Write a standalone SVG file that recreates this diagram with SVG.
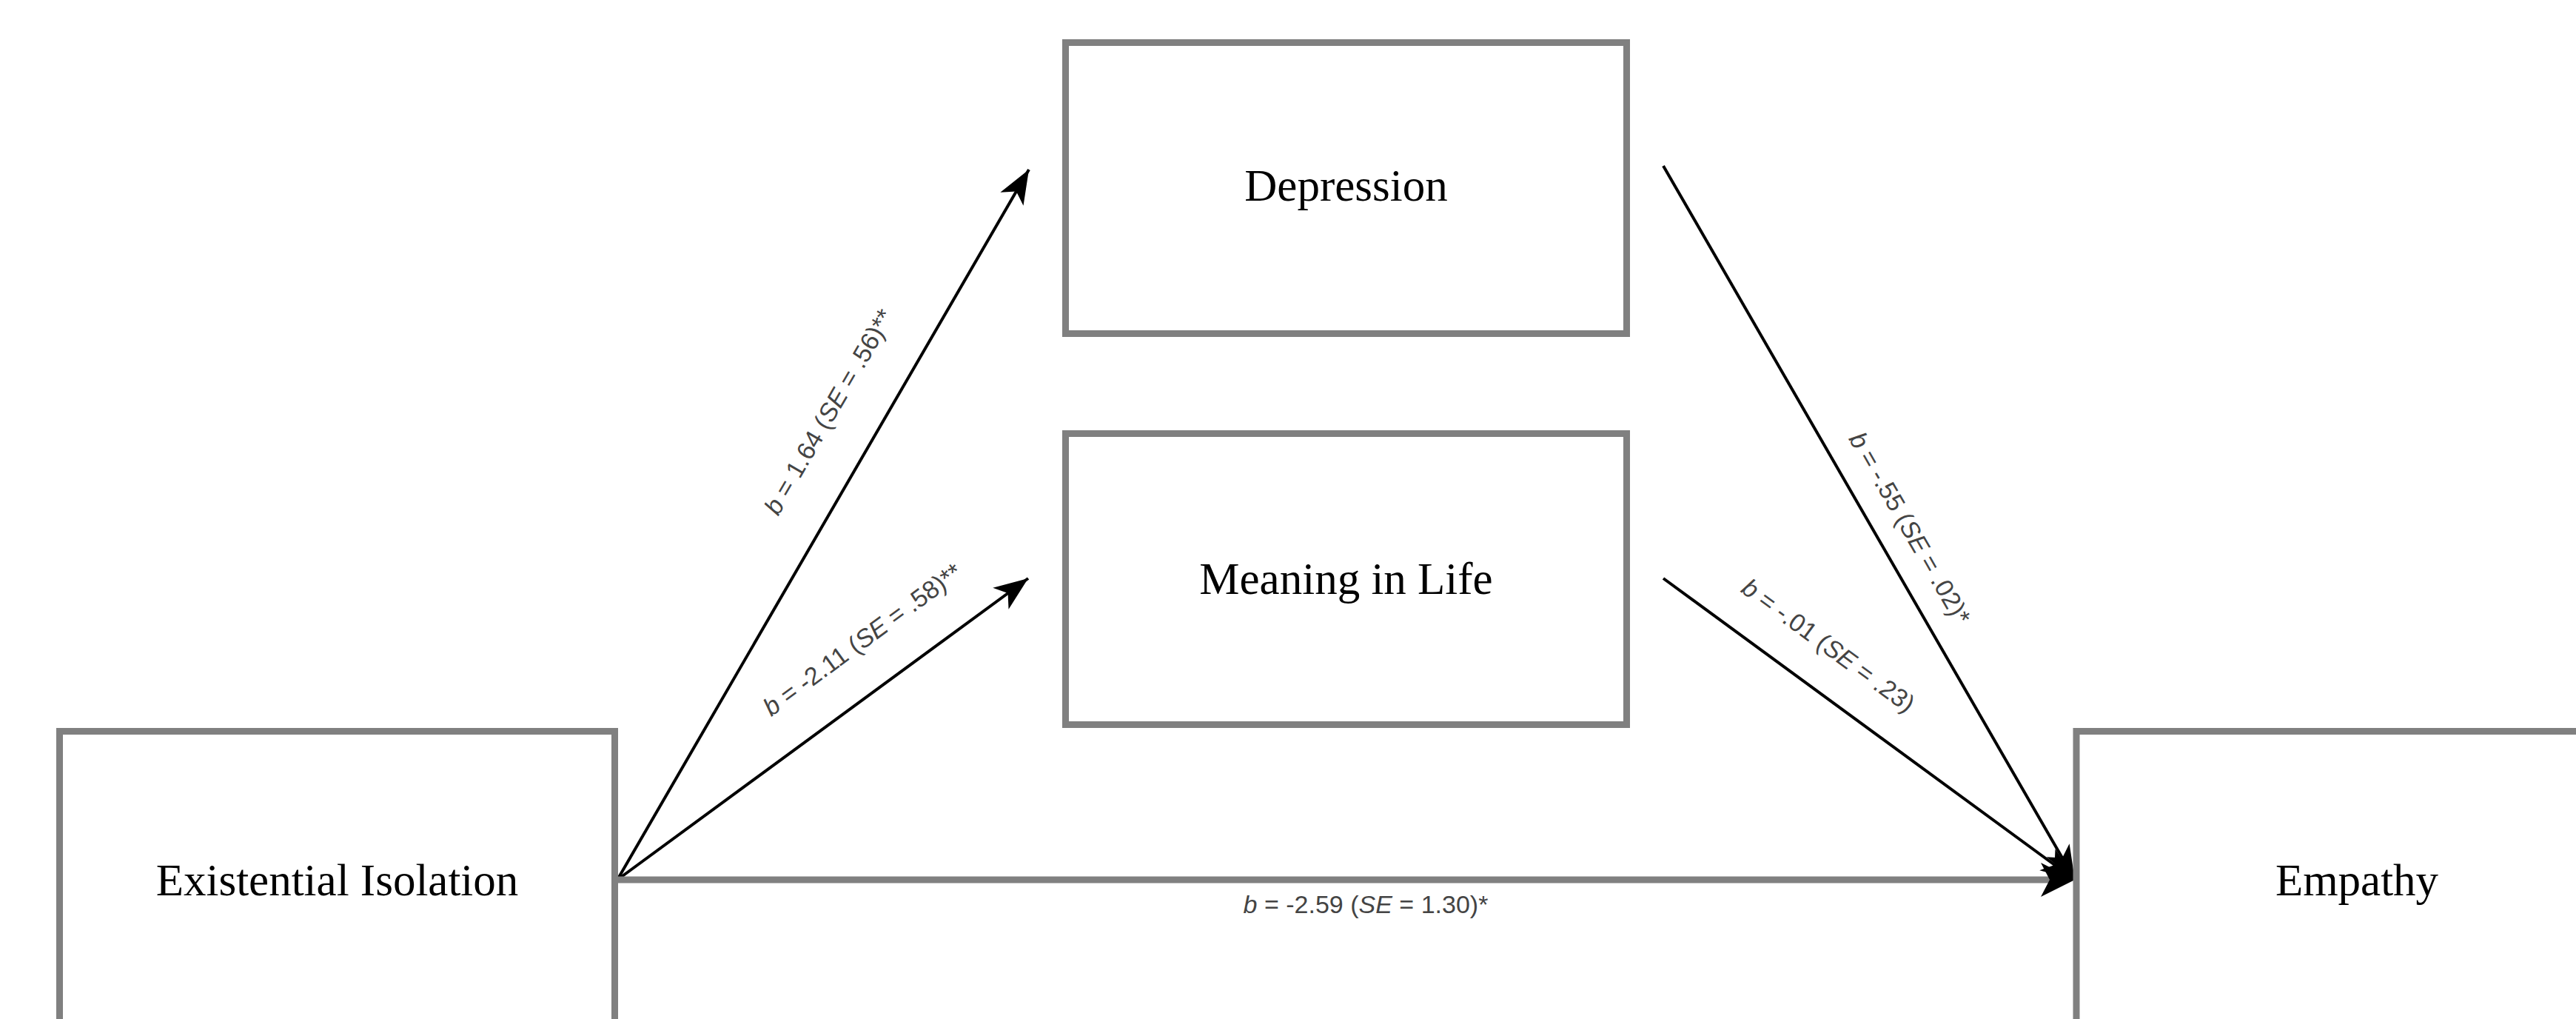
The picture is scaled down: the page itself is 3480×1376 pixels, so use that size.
<svg xmlns="http://www.w3.org/2000/svg" width="3480" height="1376" viewBox="0 0 3480 1376">
  <style>
    .box{fill:#fff;stroke:#808080;stroke-width:9}
    .name{font-family:"Liberation Serif","Times New Roman",serif;font-size:61px;fill:#000;text-anchor:middle}
    .edge{fill:none;stroke:#000;stroke-width:4}
    .direct{fill:none;stroke:#808080;stroke-width:9}
    .coef{font-family:"Liberation Sans",Arial,sans-serif;font-size:34px;fill:#444;text-anchor:middle}
    .it{font-style:italic}
  </style>
  <defs>
    <marker id="ah" markerUnits="userSpaceOnUse" markerWidth="46" markerHeight="36" refX="46" refY="18" orient="auto">
      <path d="M0,0 L46,18 L0,36 L12,18 z" fill="#000"/>
    </marker>
    <marker id="ahg" markerUnits="userSpaceOnUse" markerWidth="46" markerHeight="46" refX="26" refY="23" orient="auto">
      <path d="M0,0 L46,23 L0,46 L12,23 z" fill="#000"/>
    </marker>
  </defs>
  <rect width="3480" height="1376" fill="#fff"/>

  <g id="connectors">
    <line class="edge" x1="834" y1="1188" x2="1390" y2="229" marker-end="url(#ah)"/>
    <line class="edge" x1="834" y1="1188" x2="1389" y2="781" marker-end="url(#ah)"/>
    <line class="direct" x1="834" y1="1188" x2="2783" y2="1188" marker-end="url(#ahg)"/>
    <line class="edge" x1="2247" y1="224" x2="2803" y2="1188" marker-end="url(#ah)"/>
    <line class="edge" x1="2247" y1="781" x2="2803" y2="1188" marker-end="url(#ah)"/>
    <text class="coef" transform="translate(1130,562) rotate(-59.9)"><tspan class="it">b</tspan> = 1.64 (<tspan class="it">SE</tspan> = .56)**</text>
    <text class="coef" transform="translate(1172,873) rotate(-36.2)"><tspan class="it">b</tspan> = -2.11 (<tspan class="it">SE</tspan> = .58)**</text>
    <text class="coef" transform="translate(2570,719) rotate(60)"><tspan class="it">b</tspan> = -.55 (<tspan class="it">SE</tspan> = .02)*</text>
    <text class="coef" transform="translate(2463,881) rotate(36.2)"><tspan class="it">b</tspan> = -.01 (<tspan class="it">SE</tspan> = .23)</text>
    <text class="coef" x="1845" y="1233"><tspan class="it">b</tspan> = -2.59 (<tspan class="it">SE</tspan> = 1.30)*</text>
  </g>

  <g id="node-depression">
    <rect class="box" x="1439.5" y="57.5" width="758" height="393"/>
    <text class="name" x="1818.5" y="271">Depression</text>
  </g>
  <g id="node-meaning">
    <rect class="box" x="1439.5" y="585.5" width="758" height="393"/>
    <text class="name" x="1818.5" y="802">Meaning in Life</text>
  </g>
  <g id="node-isolation">
    <rect class="box" x="80.5" y="987.5" width="750" height="393"/>
    <text class="name" x="455.5" y="1209">Existential Isolation</text>
  </g>
  <g id="node-empathy">
    <rect class="box" x="2805" y="987.5" width="758" height="393"/>
    <text class="name" x="3184" y="1209">Empathy</text>
  </g>
</svg>
